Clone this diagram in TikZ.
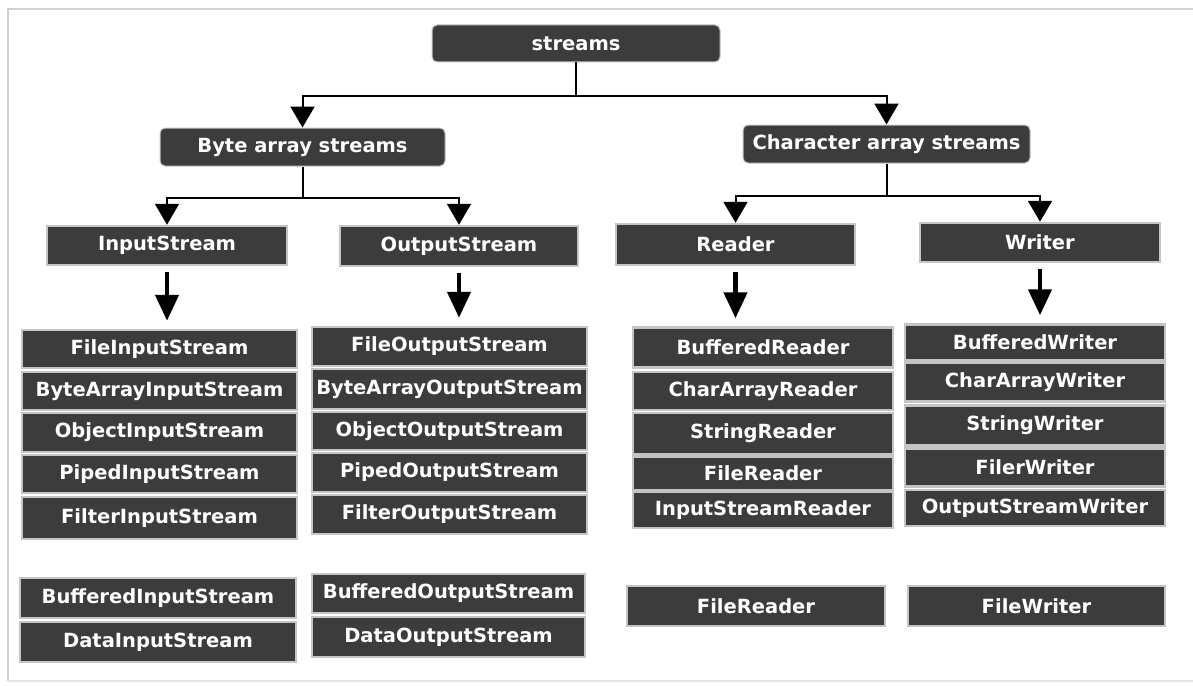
\documentclass[tikz,border=0pt]{standalone}
\usepackage{fontspec}
\setmainfont{DejaVu Sans}
\usetikzlibrary{arrows.meta,calc}
\definecolor{boxfill}{HTML}{3C3C3C}
\definecolor{boxrim}{HTML}{C4C4C4}
\definecolor{framegray}{HTML}{D2D2D2}
\tikzset{
  base/.style={fill=boxfill, text=white, inner sep=0pt,
    font=\bfseries\fontsize{19.5}{23}\selectfont},
  cls/.style={base, draw=boxrim, line width=2.5pt},
  head/.style={base, draw=boxrim, line width=1pt, rounded corners=5pt},
  conn/.style={draw=black, line width=2pt,
    -{Triangle[width=24pt,length=21pt]}},
  bigarrow/.style={draw=black, line width=4.5pt,
    -{Triangle[width=23pt,length=26pt]}, shorten <=6pt, shorten >=8pt}
}
\begin{document}
\begin{tikzpicture}[x=1pt,y=-1pt]
\useasboundingbox (0,0) rectangle (1193,685);
\fill[white] (0,0) rectangle (1193,685);
% outer frame
\draw[framegray, line width=2.5pt] (8,681) -- (8,9) -- (1196,9);
\draw[framegray!60, line width=1.5pt] (8,681) -- (1196,681);

% top level
\node[head, minimum width=288pt, minimum height=37pt] (streams) at (576,43.5) {streams};
\node[head, minimum width=285pt, minimum height=38pt] (byte) at (302.5,147) {Byte array streams};
\node[head, minimum width=287pt, minimum height=38pt] (char) at (886.5,144) {Character array streams};

% second level
\node[cls, minimum width=240pt, minimum height=39pt] (is) at (167,245.5) {InputStream};
\node[cls, minimum width=238pt, minimum height=40pt] (os) at (459,246) {OutputStream};
\node[cls, minimum width=239pt, minimum height=41pt] (rd) at (735.5,244.5) {Reader};
\node[cls, minimum width=240pt, minimum height=39pt] (wr) at (1040,242.5) {Writer};

% input stream classes
\begin{scope}[every node/.style={cls, minimum width=275pt}]
  \node[minimum height=38pt] (fis)   at (159.5,349)   {FileInputStream};
  \node[minimum height=38pt] (bais)  at (159.5,391)   {ByteArrayInputStream};
  \node[minimum height=39pt] (ois)   at (159.5,432.5) {ObjectInputStream};
  \node[minimum height=38pt] (pis)   at (159.5,474)   {PipedInputStream};
  \node[minimum height=42pt] (filis) at (159.5,518)   {FilterInputStream};
\end{scope}
% output stream classes
\begin{scope}[every node/.style={cls, minimum width=275pt}]
  \node[minimum height=39pt] (fos)   at (449.5,346.5) {FileOutputStream};
  \node[minimum height=40pt] (baos)  at (449.5,389)   {ByteArrayOutputStream};
  \node[minimum height=38pt] (oos)   at (449.5,431)   {ObjectOutputStream};
  \node[minimum height=39pt] (pos)   at (449.5,472.5) {PipedOutputStream};
  \node[minimum height=39pt] (filos) at (449.5,514.5) {FilterOutputStream};
\end{scope}
% reader classes
\begin{scope}[every node/.style={cls, minimum width=260pt}]
  \node[minimum height=40pt] (br)  at (763,347.5) {BufferedReader};
  \node[minimum height=38pt] (car) at (763,391)   {CharArrayReader};
  \node[minimum height=41pt] (sr)  at (763,433.5) {StringReader};
  \node[minimum height=34pt] (fr)  at (763,473.5) {FileReader};
  \node[minimum height=36pt] (isr) at (763,510)   {InputStreamReader};
\end{scope}
% writer classes
\begin{scope}[every node/.style={cls, minimum width=260pt}]
  \node[minimum height=36pt] (bw)  at (1035,342.5) {BufferedWriter};
  \node[minimum height=39pt] (caw) at (1035,382)   {CharArrayWriter};
  \node[minimum height=40pt] (sw)  at (1035,425.5) {StringWriter};
  \node[minimum height=38pt] (flw) at (1035,467.5) {FilerWriter};
  \node[minimum height=36pt] (osw) at (1035,508)   {OutputStreamWriter};
\end{scope}

% filter subclasses and file convenience classes
\node[cls, minimum width=276pt, minimum height=40pt] (bis) at (158,598)   {BufferedInputStream};
\node[cls, minimum width=276pt, minimum height=40pt] (dis) at (158,642)   {DataInputStream};
\node[cls, minimum width=273pt, minimum height=39pt] (bos) at (448.5,593.5) {BufferedOutputStream};
\node[cls, minimum width=273pt, minimum height=40pt] (dos) at (448.5,637) {DataOutputStream};
\node[cls, minimum width=258pt, minimum height=40pt] (frd) at (756,606)   {FileReader};
\node[cls, minimum width=257pt, minimum height=40pt] (fwr) at (1036.5,606) {FileWriter};

% hierarchy connectors
\coordinate (j1) at ($(streams.south)+(0,33)$);
\draw[line width=2pt] (streams.south) -- (j1);
\draw[conn] (j1) -| (byte.north);
\draw[conn] (j1) -| (char.north);

\coordinate (j2) at ($(byte.south)+(0,31)$);
\draw[line width=2pt] (byte.south) -- (j2);
\draw[conn] (j2) -| (is.north);
\draw[conn] (j2) -| (os.north);

\coordinate (j3) at ($(char.south)+(0,32)$);
\draw[line width=2pt] (char.south) -- (j3);
\draw[conn] (j3) -| (rd.north);
\draw[conn] (j3) -| (wr.north);

% arrows into the class lists
\draw[bigarrow] (is.south) -- (is.south |- fis.north);
\draw[bigarrow] (os.south) -- (os.south |- fos.north);
\draw[bigarrow] (rd.south) -- (rd.south |- br.north);
\draw[bigarrow] (wr.south) -- (wr.south |- bw.north);
\end{tikzpicture}
\end{document}
